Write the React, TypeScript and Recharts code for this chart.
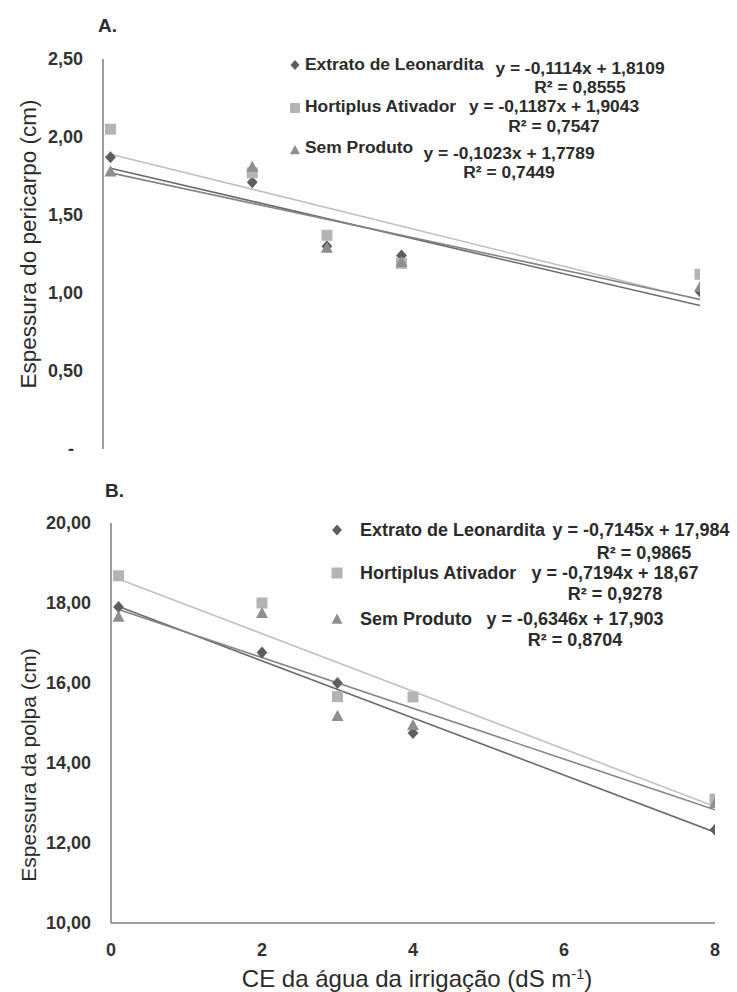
import { ScatterChart, Scatter, XAxis, YAxis } from "recharts";

// CE da água (dS m-1)
const ceLevels = [0.1, 2, 3, 4, 8];
const trendRange = [0.1, 8];
const ceTicks = [0, 2, 4, 6, 8];

const seriesNames = ["Extrato de Leonardita", "Hortiplus Ativador", "Sem Produto"];

// A. pericarpo
const pericarpoLeonardita = [1.87, 1.71, 1.30, 1.24, 1.01];
const pericarpoHortiplus = [2.05, 1.77, 1.37, 1.19, 1.12];
const pericarpoSemProduto = [1.78, 1.81, 1.29, 1.20, 1.04];
const pericarpoTrendLeonardita = [1.80, 0.92];
const pericarpoTrendHortiplus = [1.89, 0.955];
const pericarpoTrendSemProduto = [1.77, 0.96];
const pericarpoTicks = [0, 0.5, 1, 1.5, 2, 2.5];
const pericarpoEq = ["y = -0,1114x + 1,8109", "y = -0,1187x + 1,9043", "y = -0,1023x + 1,7789"];
const pericarpoR2 = ["R² = 0,8555", "R² = 0,7547", "R² = 0,7449"];

// B. polpa
const polpaLeonardita = [17.90, 16.76, 16.00, 14.75, 12.33];
const polpaHortiplus = [18.68, 18.00, 15.66, 15.65, 13.10];
const polpaSemProduto = [17.66, 17.75, 15.18, 14.95, 13.00];
const polpaTrendLeonardita = [17.91, 12.27];
const polpaTrendHortiplus = [18.60, 12.91];
const polpaTrendSemProduto = [17.84, 12.83];
const polpaTicks = [10, 12, 14, 16, 18, 20];
const polpaEq = ["y = -0,7145x + 17,984", "y = -0,7194x + 18,67", "y = -0,6346x + 17,903"];
const polpaR2 = ["R² = 0,9865", "R² = 0,9278", "R² = 0,8704"];

const FONT = '"Liberation Sans", Arial, sans-serif';
const markerKinds = ["diamond", "square", "triangle"];
const pointColors = ["#5e5e5e", "#b4b4b4", "#8e8e8e"];
const trendColors = ["#6b6b6b", "#c0c0c0", "#858585"];

const toPoints = (xs: number[], ys: number[]) => xs.map((x, i) => ({ x, y: ys[i] }));

const markerPath = (kind: string, cx: number, cy: number, r: number) => {
  if (kind === "diamond") return `M${cx},${cy - r}L${cx + r * 0.9},${cy}L${cx},${cy + r}L${cx - r * 0.9},${cy}Z`;
  if (kind === "square") return `M${cx - r},${cy - r}h${2 * r}v${2 * r}h${-2 * r}Z`;
  return `M${cx},${cy - r}L${cx + r},${cy + r * 0.85}L${cx - r},${cy + r * 0.85}Z`;
};

const makeShape = (kind: string, fill: string, r: number) => (p: any) =>
  <path d={markerPath(kind, p.cx, p.cy, r)} fill={fill} />;

const noShape = () => <g />;

const fmt = (v: number) => (v === 0 ? "-" : v.toFixed(2).replace(".", ","));

const YTick = ({ x, y, payload }: any) => (
  <text x={x} y={y} dx={payload.value === 0 ? -9 : 0} dy="0.36em" textAnchor="end"
    fontSize={18} fontWeight="bold" fill="#333" fontFamily={FONT}>
    {fmt(payload.value)}
  </text>
);

const XTick = ({ x, y, payload }: any) => (
  <text x={x} y={y} dy="0.71em" textAnchor="middle" fontSize={18} fontWeight="bold" fill="#333" fontFamily={FONT}>
    {payload.value}
  </text>
);

const Txt = ({ x, y, size, bold, center, rotate, children }: any) => (
  <div style={{
    position: "absolute", left: x, top: y, fontSize: size, lineHeight: 1,
    fontWeight: bold ? "bold" : "normal", whiteSpace: "nowrap", color: "#2b2b2b",
    transform: `translate(${center ? "-50%" : "0"}, -50%)${rotate ? " rotate(-90deg)" : ""}`,
  }}>
    {children}
  </div>
);

const LegendMarker = ({ kind, color, x, y, r }: any) => (
  <svg style={{ position: "absolute", left: x - 8, top: y - 8 }} width={16} height={16}>
    <path d={markerPath(kind, 8, 8, r)} fill={color} />
  </svg>
);

const axisStroke = "#7d7d7d";

const Panel = ({ height, margin, xAxisHeight, showX, domain, ticks, series, trends, yWidth }: any) => (
  <ScatterChart width={737} height={height} margin={margin}>
    <XAxis type="number" dataKey="x" domain={[0, 8]} ticks={ceTicks} allowDataOverflow
      height={xAxisHeight} stroke={axisStroke} strokeWidth={1.5} tickLine={false}
      tickSize={6} tickMargin={14} tick={showX ? <XTick /> : false} />
    <YAxis type="number" dataKey="y" domain={domain} ticks={ticks} width={yWidth}
      stroke={axisStroke} strokeWidth={1.5} tickLine={false} tickSize={6} tickMargin={14} tick={<YTick />} />
    {trends.map((t: number[], i: number) => (
      <Scatter key={"t" + i} data={toPoints(trendRange, t)} line={{ stroke: trendColors[i], strokeWidth: 1.6 }}
        shape={noShape} isAnimationActive={false} />
    ))}
    {series.map((s: number[], i: number) => (
      <Scatter key={"s" + i} data={toPoints(ceLevels, s)} fill={pointColors[i]}
        shape={makeShape(markerKinds[i], pointColors[i], i === 1 ? 5.5 : 6)} isAnimationActive={false} />
    ))}
  </ScatterChart>
);

export default function App() {
  const topNameY = [65, 107, 148];
  const topEqX = [580, 554, 509];
  const topEqY = [69, 107, 154];
  const topR2Y = [88, 127, 173];
  const topMarkY = [65, 108, 150];

  const botRowY = [530, 573, 619];
  const botEqX = [641, 615, 575];
  const botR2X = [644, 615, 575];
  const botR2Y = [553, 594, 640];

  return (
    <div style={{ position: "absolute", left: 0, top: 0, width: 737, height: 992, background: "#fff", fontFamily: FONT }}>
      <div style={{ position: "absolute", left: 0, top: 0 }}>
        <Panel height={470} margin={{ top: 59, right: 37, bottom: 21, left: 0 }} xAxisHeight={0} showX={false}
          domain={[0, 2.5]} ticks={pericarpoTicks} yWidth={103}
          series={[pericarpoLeonardita, pericarpoHortiplus, pericarpoSemProduto]}
          trends={[pericarpoTrendLeonardita, pericarpoTrendHortiplus, pericarpoTrendSemProduto]} />
      </div>
      <div style={{ position: "absolute", left: 0, top: 470 }}>
        <Panel height={522} margin={{ top: 53, right: 22, bottom: 29, left: 0 }} xAxisHeight={40} showX
          domain={[10, 20]} ticks={polpaTicks} yWidth={111}
          series={[polpaLeonardita, polpaHortiplus, polpaSemProduto]}
          trends={[polpaTrendLeonardita, polpaTrendHortiplus, polpaTrendSemProduto]} />
      </div>

      <Txt x={98} y={25} size={19} bold>A.</Txt>
      <Txt x={105} y={490} size={19} bold>B.</Txt>
      <Txt x={29} y={244} size={22.5} center rotate>Espessura do pericarpo (cm)</Txt>
      <Txt x={28} y={765} size={21} center rotate>Espessura da polpa (cm)</Txt>
      <Txt x={417} y={979} size={24} center>
        CE da água da irrigação (dS m<sup style={{ fontSize: "0.6em", verticalAlign: "0.6em" }}>-1</sup>)
      </Txt>

      {seriesNames.map((name, i) => (
        <div key={"la" + i}>
          <LegendMarker kind={markerKinds[i]} color={pointColors[i]} x={295} y={topMarkY[i]} r={5} />
          <Txt x={305} y={topNameY[i]} size={17.4} bold>{name}</Txt>
          <Txt x={topEqX[i]} y={topEqY[i]} size={17.4} bold center>{pericarpoEq[i]}</Txt>
          <Txt x={topEqX[i]} y={topR2Y[i]} size={17.4} bold center>{pericarpoR2[i]}</Txt>
        </div>
      ))}
      {seriesNames.map((name, i) => (
        <div key={"lb" + i}>
          <LegendMarker kind={markerKinds[i]} color={pointColors[i]} x={337} y={botRowY[i]} r={5.5} />
          <Txt x={360} y={botRowY[i]} size={18} bold>{name}</Txt>
          <Txt x={botEqX[i]} y={botRowY[i]} size={18} bold center>{polpaEq[i]}</Txt>
          <Txt x={botR2X[i]} y={botR2Y[i]} size={18} bold center>{polpaR2[i]}</Txt>
        </div>
      ))}
    </div>
  );
}
